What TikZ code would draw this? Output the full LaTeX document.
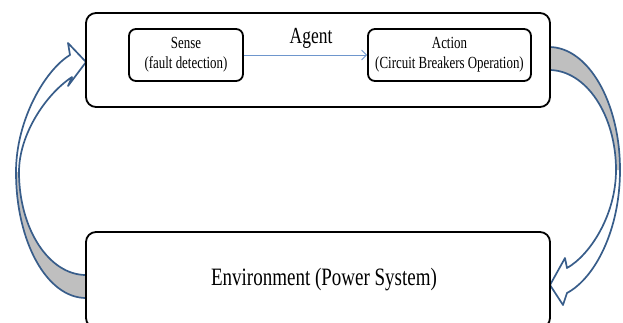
\documentclass[tikz,border=0pt]{standalone}
\usepackage{fontspec}
\setmainfont{Liberation Serif}
\newfontfamily\narrowserif[FakeStretch=0.76]{Liberation Serif}
\usetikzlibrary{arrows.meta}
\definecolor{loopblue}{RGB}{56,93,138}
\definecolor{loopgray}{RGB}{191,191,191}
\definecolor{linkblue}{RGB}{110,150,205}
\tikzset{
	bigbox/.style={draw=black, fill=white, line width=1.8pt, rounded corners=10pt, minimum width=464pt, inner sep=0pt},
	smallbox/.style={draw=black, fill=white, line width=1.8pt, rounded corners=7pt, minimum height=52pt, inner sep=0pt, align=center, font=\narrowserif\fontsize{17}{20}\selectfont},
	loopedge/.style={draw=loopblue, line width=1.7pt, line join=round},
}
\begin{document}
\begin{tikzpicture}[x=1pt, y=-1pt]
	\clip (0,0) rectangle (623,322);
	\useasboundingbox (0,0) rectangle (623,322);
	
	% left loop, environment up to agent
	\fill[loopgray] (86,298) .. controls (47,298) and (16,242) .. (16,172) -- (19,172) .. controls (19,229) and (49,275) .. (86,275) -- cycle;
	\draw[loopedge] (86,298) .. controls (47,298) and (16,242) .. (16,172) .. controls (16,120) and (45,70) .. (70,55) -- (68,43) -- (86,62) -- (68,86) -- (72,77) .. controls (45,95) and (19,135) .. (19,172) .. controls (19,229) and (49,275) .. (86,275);
	
	% right loop, agent down to environment
	\fill[loopgray] (549,47) .. controls (588,47) and (620,102) .. (620,170) -- (616,170) .. controls (616,115) and (586,70) .. (549,70) -- cycle;
	\draw[loopedge] (549,47) .. controls (588,47) and (620,102) .. (620,170) .. controls (620,230) and (595,278) .. (567,293) -- (563,305) -- (550,285) -- (565,258) -- (567,268) .. controls (590,255) and (616,215) .. (616,170) .. controls (616,115) and (586,70) .. (549,70);
	
	\node[bigbox, minimum height=94pt] (agent) at (318,60) {};
	\node[font=\narrowserif\fontsize{23}{26}\selectfont] (agentlabel) at (311,38) {Agent};
	
	\node[smallbox, minimum width=114pt] (sense) at (186,55) {Sense\\(fault detection)};
	\node[smallbox, minimum width=163pt] (action) at (449.5,55) {Action\\(Circuit Breakers Operation)};
	\draw[linkblue, line width=0.8pt, -{Straight Barb[length=5pt, width=10pt]}] (sense) -- (action);
	
	\node[bigbox, minimum height=96pt, font=\narrowserif\fontsize{25}{28}\selectfont] (env) at (318,280) {\hspace*{12pt}Environment (Power System)};
	
\end{tikzpicture}
\end{document}
